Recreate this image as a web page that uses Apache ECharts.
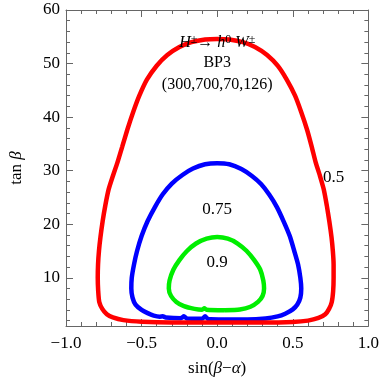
<!DOCTYPE html>
<html>
<head>
<meta charset="utf-8">
<script src="https://cdn.jsdelivr.net/npm/echarts@6/dist/echarts.min.js"></script>
<style>
  html, body { margin: 0; padding: 0; background: #fff; }
  #chart { width: 382px; height: 382px; }
</style>
</head>
<body>
<div id="chart"></div>
<script>
// contour lines of the ratio as [sin(b-a), tan b]
const contour05 = [
  [0, 1.65], [-0.3, 1.65], [-0.5, 1.8], [-0.62, 2.1], [-0.69, 2.6], [-0.73, 3.2],
  [-0.76, 4.2], [-0.78, 5.5], [-0.787, 7.5], [-0.79, 10], [-0.788, 12.5], [-0.782, 15],
  [-0.772, 17.6], [-0.758, 20.5], [-0.74, 23.5], [-0.718, 26.5], [-0.69, 29],
  [-0.66, 31.5], [-0.628, 34.5], [-0.595, 37.6], [-0.555, 41], [-0.515, 44],
  [-0.465, 47], [-0.4, 49.6], [-0.33, 51.6], [-0.25, 53.1], [-0.17, 54], [-0.08, 54.5],
  [0, 54.6], [0.08, 54.5], [0.17, 54], [0.25, 53.1], [0.33, 51.6], [0.4, 49.6],
  [0.46, 47], [0.515, 44], [0.555, 41], [0.595, 37.6], [0.625, 34.5], [0.652, 31.5],
  [0.68, 29], [0.705, 26.5], [0.725, 23.5], [0.742, 20.5], [0.756, 17.6], [0.765, 15],
  [0.77, 12.5], [0.77, 10], [0.767, 7.5], [0.758, 5.5], [0.74, 4.2], [0.715, 3.2],
  [0.67, 2.5], [0.6, 2.0], [0.5, 1.75], [0.3, 1.65], [0, 1.65]
];
const contour075 = [
  [0.05, 2.2], [-0.06, 2.3], [-0.08, 2.8], [-0.1, 2.35], [-0.2, 2.4], [-0.22, 2.8],
  [-0.24, 2.45], [-0.34, 2.6], [-0.36, 2.8], [-0.38, 2.75], [-0.42, 2.95], [-0.46, 3.4],
  [-0.5, 4.0], [-0.54, 5.0], [-0.56, 6.3], [-0.568, 8], [-0.565, 10], [-0.55, 12.5],
  [-0.53, 15], [-0.5, 17.8], [-0.46, 20.6], [-0.41, 23.3], [-0.36, 25.6], [-0.3, 27.6],
  [-0.23, 29.2], [-0.16, 30.4], [-0.08, 31.2], [0, 31.4], [0.08, 31.2], [0.16, 30.3],
  [0.23, 29], [0.29, 27.5], [0.345, 25.5], [0.395, 23.2], [0.44, 20.5], [0.48, 17.8],
  [0.51, 15], [0.535, 12.5], [0.55, 10], [0.556, 8], [0.55, 6.3], [0.53, 5.0],
  [0.5, 4.1], [0.45, 3.3], [0.4, 2.8], [0.32, 2.4], [0.2, 2.2], [0.05, 2.2]
];
const contour09 = [
  [0.05, 3.95], [-0.07, 4.05], [-0.085, 4.3], [-0.1, 4.05], [-0.15, 4.2], [-0.22, 4.7],
  [-0.27, 5.5], [-0.305, 6.6], [-0.32, 8], [-0.315, 9.5], [-0.29, 11.5], [-0.25, 13.3],
  [-0.2, 15], [-0.14, 16.4], [-0.07, 17.3], [0, 17.6], [0.07, 17.3], [0.135, 16.4],
  [0.195, 15], [0.245, 13.3], [0.285, 11.5], [0.305, 9.5], [0.31, 8], [0.3, 6.6],
  [0.27, 5.5], [0.22, 4.6], [0.15, 4.1], [0.05, 3.95]
];

const contourNames = ['0.5', '0.75', '0.9'];
const contourColors = ['#ff0000', '#0000ff', '#00ee00'];
const labelX = [0.77, 0, 0];
const labelY = [28.8, 22.8, 12.9];

const noteLines = ['{i|H}{s|±}{n|→ }{i|h}{s|0}{n| }{i|W}{s|±}', 'BP3', '(300,700,70,126)'];
const noteY = [53.9, 50.1, 46.0];

const yMajor = [10, 20, 30, 40, 50, 60];
const yMinor = [2, 4, 6, 8, 12, 14, 16, 18, 22, 24, 26, 28, 32, 34, 36, 38,
                42, 44, 46, 48, 52, 54, 56, 58];

const font = 'Liberation Serif';
const frame = '#666';

const chart = echarts.init(document.getElementById('chart'));

function xAxis(pos, labels) {
  return {
    type: 'value', position: pos, min: -1, max: 1, interval: 0.5,
    axisLine: { show: true, onZero: false, lineStyle: { color: frame, width: 1 } },
    axisTick: { show: true, inside: true, length: 7, lineStyle: { color: frame } },
    minorTick: { show: true, splitNumber: 5, length: 4, lineStyle: { color: frame } },
    splitLine: { show: false },
    axisLabel: {
      show: labels, margin: 9, color: '#000', fontFamily: font, fontSize: 17,
      formatter: v => (v < 0 ? '\u2212' : '') + Math.abs(v).toFixed(1)
    },
    name: labels ? '{r|sin(}{i|β}{r|\u2212}{i|α}{r|)}' : '',
    nameLocation: 'middle', nameGap: 34,
    nameTextStyle: {
      rich: {
        r: { fontFamily: font, fontSize: 17, color: '#000' },
        i: { fontFamily: font, fontSize: 17, color: '#000', fontStyle: 'italic' }
      }
    }
  };
}

function yAxis(pos, ticks, len, labels, line) {
  return {
    type: 'value', position: pos, min: 1, max: 60,
    axisLine: { show: line, onZero: false, lineStyle: { color: frame, width: 1 } },
    axisTick: { show: true, inside: true, length: len, customValues: ticks, lineStyle: { color: frame } },
    splitLine: { show: false },
    axisLabel: {
      show: labels, customValues: ticks, margin: 6, color: '#000',
      fontFamily: font, fontSize: 17
    },
    name: labels ? '{r|tan }{i|β}' : '',
    nameLocation: 'middle', nameGap: 41, nameRotate: 90,
    nameTextStyle: {
      rich: {
        r: { fontFamily: font, fontSize: 17, color: '#000' },
        i: { fontFamily: font, fontSize: 17, color: '#000', fontStyle: 'italic' }
      }
    }
  };
}

const contours = [contour05, contour075, contour09];

const series = contours.map((pts, i) => ({
  type: 'line',
  name: contourNames[i],
  data: pts,
  xAxisIndex: 0, yAxisIndex: 0,
  showSymbol: false,
  smooth: 0.2,
  lineStyle: { color: contourColors[i], width: 4.5 },
  z: 3 - i
}));

const textStyle = { fontFamily: font, color: '#000', opacity: 1 };

series.push({
  type: 'scatter',
  xAxisIndex: 0, yAxisIndex: 0,
  symbolSize: 0,
  silent: true,
  z: 10,
  itemStyle: { opacity: 1 },
  data: contourNames.map((n, i) => ({ name: n, value: [labelX[i], labelY[i]] })),
  label: Object.assign({ show: true, position: 'inside', formatter: '{b}', fontSize: 17 }, textStyle)
});

series.push({
  type: 'scatter',
  xAxisIndex: 0, yAxisIndex: 0,
  symbolSize: 0,
  silent: true,
  z: 10,
  itemStyle: { opacity: 1 },
  data: noteLines.map((n, i) => ({ name: n, value: [0, noteY[i]] })),
  label: Object.assign({
    show: true, position: 'inside', formatter: '{b}', fontSize: 16,
    rich: {
      n: { fontFamily: font, fontSize: 16, color: '#000', lineHeight: 18 },
      i: { fontFamily: font, fontSize: 16, color: '#000', fontStyle: 'italic', lineHeight: 18 },
      s: { fontFamily: font, fontSize: 12, color: '#000', verticalAlign: 'top', lineHeight: 12 }
    }
  }, textStyle)
});

chart.setOption({
  animation: false,
  backgroundColor: '#fff',
  grid: { left: 53, right: 10, top: 10, bottom: 56 },
  xAxis: [xAxis('bottom', true), xAxis('top', false)],
  yAxis: [
    yAxis('left', yMajor, 7, true, true),
    yAxis('left', yMinor, 4, false, false),
    yAxis('right', yMajor, 7, false, true),
    yAxis('right', yMinor, 4, false, false)
  ],
  series: series
});
</script>
</body>
</html>
